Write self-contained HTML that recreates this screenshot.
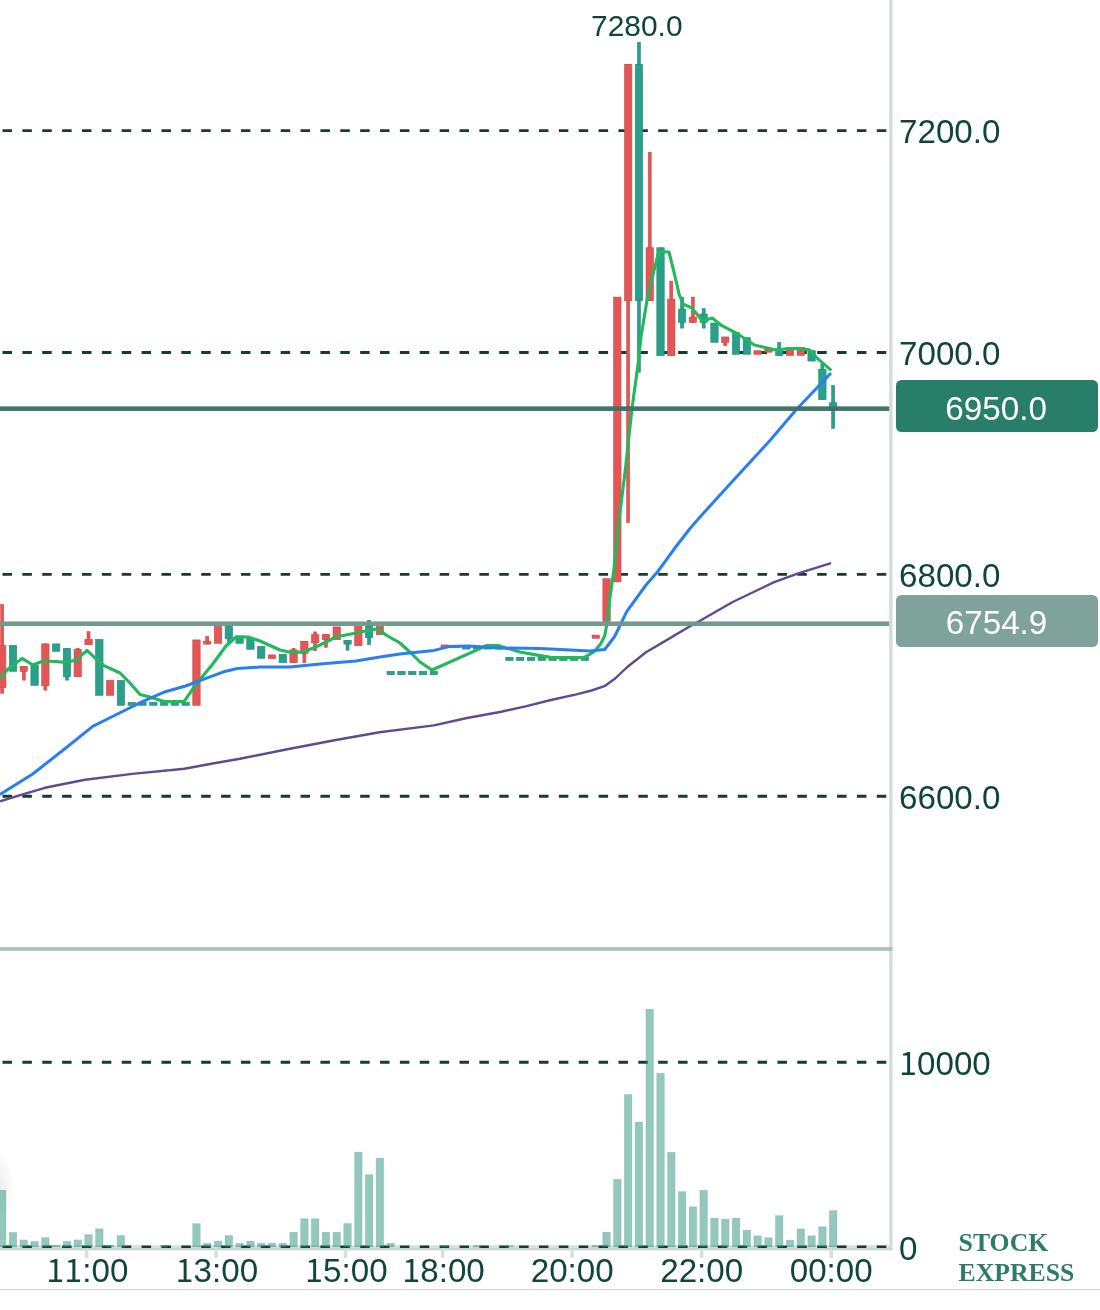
<!DOCTYPE html>
<html lang="en"><head><meta charset="utf-8"><title>Stock Express chart</title>
<style>
html,body{margin:0;padding:0;background:#fff;}
body{width:1100px;height:1310px;overflow:hidden;position:relative;}
svg{display:block;position:absolute;left:0;top:0;}
text{font-family:"Liberation Sans",Arial,Helvetica,sans-serif;font-size:32.8px;fill:#10463a;}
.brand{font-family:"Liberation Serif","Times New Roman",serif;font-weight:bold;font-size:25.6px;fill:#2e7c68;}
.one{font-family:"Noto Sans CJK JP","Liberation Sans",sans-serif;font-size:32px;}
.box{fill:#fff;font-size:33.6px;}
</style></head><body>
<svg width="1100" height="1310" viewBox="0 0 1100 1310">
<defs><radialGradient id="sh" gradientUnits="userSpaceOnUse" cx="-30" cy="1186" r="46"><stop offset="0.6" stop-color="#000" stop-opacity="0.07"/><stop offset="1" stop-color="#000" stop-opacity="0"/></radialGradient></defs>
<rect width="1100" height="1310" fill="#ffffff"/>
<rect x="0" y="1120" width="40" height="130" fill="url(#sh)"/>
<!-- grid -->
<g id="grid">
<line x1="2.5" y1="130.6" x2="886.4" y2="130.6" stroke="#143d31" stroke-width="2.9" stroke-dasharray="9.5 10.37"/>
<line x1="2.5" y1="352.5" x2="886.4" y2="352.5" stroke="#143d31" stroke-width="2.9" stroke-dasharray="9.5 10.37"/>
<line x1="2.5" y1="574.4" x2="886.4" y2="574.4" stroke="#143d31" stroke-width="2.9" stroke-dasharray="9.5 10.37"/>
<line x1="2.5" y1="796.3" x2="886.4" y2="796.3" stroke="#143d31" stroke-width="2.9" stroke-dasharray="9.5 10.37"/>
<line x1="2.5" y1="1062.2" x2="886.4" y2="1062.2" stroke="#143d31" stroke-width="2.9" stroke-dasharray="9.5 10.37"/>
</g>
<!-- axis lines -->
<rect x="889.2" y="0" width="3.3" height="1250.2" fill="#d3dcd9"/>
<rect x="0" y="947.2" width="892.4" height="3.6" fill="#a9bfb8"/>
<rect x="0" y="1245.2" width="892.4" height="5" fill="#d9e1de"/>
<rect x="0" y="1248.2" width="892.4" height="2" fill="#c6d3cf"/>
<line x1="2.5" y1="1246.8" x2="886.4" y2="1246.8" stroke="#143d31" stroke-width="2.4" stroke-dasharray="9.5 10.37"/>
<g id="ticks">
<rect x="84.74" y="1249.00" width="3.60" height="9.00" fill="#d6e0dd"/>
<rect x="214.24" y="1249.00" width="3.60" height="9.00" fill="#d6e0dd"/>
<rect x="343.74" y="1249.00" width="3.60" height="9.00" fill="#d6e0dd"/>
<rect x="440.87" y="1249.00" width="3.60" height="9.00" fill="#d6e0dd"/>
<rect x="570.38" y="1249.00" width="3.60" height="9.00" fill="#d6e0dd"/>
<rect x="699.88" y="1249.00" width="3.60" height="9.00" fill="#d6e0dd"/>
<rect x="829.38" y="1249.00" width="3.60" height="9.00" fill="#d6e0dd"/>
</g>
<rect x="0" y="1289" width="1100" height="1.2" fill="#d8d8d8"/>
<!-- volume -->
<g id="volume">
<rect x="-1.60" y="1190.20" width="7.60" height="56.80" fill="#2a917a" fill-opacity="0.5" stroke="#2a917a" stroke-opacity="0.22" stroke-width="0.7"/>
<rect x="9.19" y="1232.40" width="7.60" height="14.60" fill="#2a917a" fill-opacity="0.5" stroke="#2a917a" stroke-opacity="0.22" stroke-width="0.7"/>
<rect x="19.98" y="1239.90" width="7.60" height="7.10" fill="#2a917a" fill-opacity="0.5" stroke="#2a917a" stroke-opacity="0.22" stroke-width="0.7"/>
<rect x="30.78" y="1241.40" width="7.60" height="5.60" fill="#2a917a" fill-opacity="0.5" stroke="#2a917a" stroke-opacity="0.22" stroke-width="0.7"/>
<rect x="41.57" y="1237.60" width="7.60" height="9.40" fill="#2a917a" fill-opacity="0.5" stroke="#2a917a" stroke-opacity="0.22" stroke-width="0.7"/>
<rect x="52.36" y="1245.10" width="7.60" height="1.90" fill="#2a917a" fill-opacity="0.5" stroke="#2a917a" stroke-opacity="0.22" stroke-width="0.7"/>
<rect x="63.15" y="1241.30" width="7.60" height="5.70" fill="#2a917a" fill-opacity="0.5" stroke="#2a917a" stroke-opacity="0.22" stroke-width="0.7"/>
<rect x="73.94" y="1239.90" width="7.60" height="7.10" fill="#2a917a" fill-opacity="0.5" stroke="#2a917a" stroke-opacity="0.22" stroke-width="0.7"/>
<rect x="84.74" y="1234.50" width="7.60" height="12.50" fill="#2a917a" fill-opacity="0.5" stroke="#2a917a" stroke-opacity="0.22" stroke-width="0.7"/>
<rect x="95.53" y="1228.80" width="7.60" height="18.20" fill="#2a917a" fill-opacity="0.5" stroke="#2a917a" stroke-opacity="0.22" stroke-width="0.7"/>
<rect x="106.32" y="1245.10" width="7.60" height="1.90" fill="#2a917a" fill-opacity="0.5" stroke="#2a917a" stroke-opacity="0.22" stroke-width="0.7"/>
<rect x="117.11" y="1235.50" width="7.60" height="11.50" fill="#2a917a" fill-opacity="0.5" stroke="#2a917a" stroke-opacity="0.22" stroke-width="0.7"/>
<rect x="160.28" y="1245.50" width="7.60" height="1.50" fill="#2a917a" fill-opacity="0.5" stroke="#2a917a" stroke-opacity="0.22" stroke-width="0.7"/>
<rect x="192.66" y="1223.60" width="7.60" height="23.40" fill="#2a917a" fill-opacity="0.5" stroke="#2a917a" stroke-opacity="0.22" stroke-width="0.7"/>
<rect x="203.45" y="1243.30" width="7.60" height="3.70" fill="#2a917a" fill-opacity="0.5" stroke="#2a917a" stroke-opacity="0.22" stroke-width="0.7"/>
<rect x="214.24" y="1241.10" width="7.60" height="5.90" fill="#2a917a" fill-opacity="0.5" stroke="#2a917a" stroke-opacity="0.22" stroke-width="0.7"/>
<rect x="225.03" y="1235.50" width="7.60" height="11.50" fill="#2a917a" fill-opacity="0.5" stroke="#2a917a" stroke-opacity="0.22" stroke-width="0.7"/>
<rect x="235.82" y="1243.30" width="7.60" height="3.70" fill="#2a917a" fill-opacity="0.5" stroke="#2a917a" stroke-opacity="0.22" stroke-width="0.7"/>
<rect x="246.62" y="1241.10" width="7.60" height="5.90" fill="#2a917a" fill-opacity="0.5" stroke="#2a917a" stroke-opacity="0.22" stroke-width="0.7"/>
<rect x="257.41" y="1243.30" width="7.60" height="3.70" fill="#2a917a" fill-opacity="0.5" stroke="#2a917a" stroke-opacity="0.22" stroke-width="0.7"/>
<rect x="268.20" y="1243.30" width="7.60" height="3.70" fill="#2a917a" fill-opacity="0.5" stroke="#2a917a" stroke-opacity="0.22" stroke-width="0.7"/>
<rect x="278.99" y="1243.30" width="7.60" height="3.70" fill="#2a917a" fill-opacity="0.5" stroke="#2a917a" stroke-opacity="0.22" stroke-width="0.7"/>
<rect x="289.78" y="1232.20" width="7.60" height="14.80" fill="#2a917a" fill-opacity="0.5" stroke="#2a917a" stroke-opacity="0.22" stroke-width="0.7"/>
<rect x="300.58" y="1218.70" width="7.60" height="28.30" fill="#2a917a" fill-opacity="0.5" stroke="#2a917a" stroke-opacity="0.22" stroke-width="0.7"/>
<rect x="311.37" y="1218.70" width="7.60" height="28.30" fill="#2a917a" fill-opacity="0.5" stroke="#2a917a" stroke-opacity="0.22" stroke-width="0.7"/>
<rect x="322.16" y="1232.20" width="7.60" height="14.80" fill="#2a917a" fill-opacity="0.5" stroke="#2a917a" stroke-opacity="0.22" stroke-width="0.7"/>
<rect x="332.95" y="1232.20" width="7.60" height="14.80" fill="#2a917a" fill-opacity="0.5" stroke="#2a917a" stroke-opacity="0.22" stroke-width="0.7"/>
<rect x="343.74" y="1223.50" width="7.60" height="23.50" fill="#2a917a" fill-opacity="0.5" stroke="#2a917a" stroke-opacity="0.22" stroke-width="0.7"/>
<rect x="354.54" y="1152.10" width="7.60" height="94.90" fill="#2a917a" fill-opacity="0.5" stroke="#2a917a" stroke-opacity="0.22" stroke-width="0.7"/>
<rect x="365.33" y="1174.60" width="7.60" height="72.40" fill="#2a917a" fill-opacity="0.5" stroke="#2a917a" stroke-opacity="0.22" stroke-width="0.7"/>
<rect x="376.12" y="1158.20" width="7.60" height="88.80" fill="#2a917a" fill-opacity="0.5" stroke="#2a917a" stroke-opacity="0.22" stroke-width="0.7"/>
<rect x="386.91" y="1243.30" width="7.60" height="3.70" fill="#2a917a" fill-opacity="0.5" stroke="#2a917a" stroke-opacity="0.22" stroke-width="0.7"/>
<rect x="440.87" y="1245.60" width="7.60" height="1.40" fill="#2a917a" fill-opacity="0.5" stroke="#2a917a" stroke-opacity="0.22" stroke-width="0.7"/>
<rect x="473.25" y="1245.60" width="7.60" height="1.40" fill="#2a917a" fill-opacity="0.5" stroke="#2a917a" stroke-opacity="0.22" stroke-width="0.7"/>
<rect x="505.62" y="1245.60" width="7.60" height="1.40" fill="#2a917a" fill-opacity="0.5" stroke="#2a917a" stroke-opacity="0.22" stroke-width="0.7"/>
<rect x="591.96" y="1245.30" width="7.60" height="1.70" fill="#2a917a" fill-opacity="0.5" stroke="#2a917a" stroke-opacity="0.22" stroke-width="0.7"/>
<rect x="602.75" y="1232.10" width="7.60" height="14.90" fill="#2a917a" fill-opacity="0.5" stroke="#2a917a" stroke-opacity="0.22" stroke-width="0.7"/>
<rect x="613.54" y="1179.30" width="7.60" height="67.70" fill="#2a917a" fill-opacity="0.5" stroke="#2a917a" stroke-opacity="0.22" stroke-width="0.7"/>
<rect x="624.34" y="1094.60" width="7.60" height="152.40" fill="#2a917a" fill-opacity="0.5" stroke="#2a917a" stroke-opacity="0.22" stroke-width="0.7"/>
<rect x="635.13" y="1122.10" width="7.60" height="124.90" fill="#2a917a" fill-opacity="0.5" stroke="#2a917a" stroke-opacity="0.22" stroke-width="0.7"/>
<rect x="645.92" y="1009.20" width="7.60" height="237.80" fill="#2a917a" fill-opacity="0.5" stroke="#2a917a" stroke-opacity="0.22" stroke-width="0.7"/>
<rect x="656.71" y="1073.30" width="7.60" height="173.70" fill="#2a917a" fill-opacity="0.5" stroke="#2a917a" stroke-opacity="0.22" stroke-width="0.7"/>
<rect x="667.50" y="1152.30" width="7.60" height="94.70" fill="#2a917a" fill-opacity="0.5" stroke="#2a917a" stroke-opacity="0.22" stroke-width="0.7"/>
<rect x="678.30" y="1191.60" width="7.60" height="55.40" fill="#2a917a" fill-opacity="0.5" stroke="#2a917a" stroke-opacity="0.22" stroke-width="0.7"/>
<rect x="689.09" y="1206.80" width="7.60" height="40.20" fill="#2a917a" fill-opacity="0.5" stroke="#2a917a" stroke-opacity="0.22" stroke-width="0.7"/>
<rect x="699.88" y="1190.30" width="7.60" height="56.70" fill="#2a917a" fill-opacity="0.5" stroke="#2a917a" stroke-opacity="0.22" stroke-width="0.7"/>
<rect x="710.67" y="1218.10" width="7.60" height="28.90" fill="#2a917a" fill-opacity="0.5" stroke="#2a917a" stroke-opacity="0.22" stroke-width="0.7"/>
<rect x="721.46" y="1219.10" width="7.60" height="27.90" fill="#2a917a" fill-opacity="0.5" stroke="#2a917a" stroke-opacity="0.22" stroke-width="0.7"/>
<rect x="732.26" y="1218.10" width="7.60" height="28.90" fill="#2a917a" fill-opacity="0.5" stroke="#2a917a" stroke-opacity="0.22" stroke-width="0.7"/>
<rect x="743.05" y="1230.10" width="7.60" height="16.90" fill="#2a917a" fill-opacity="0.5" stroke="#2a917a" stroke-opacity="0.22" stroke-width="0.7"/>
<rect x="753.84" y="1235.80" width="7.60" height="11.20" fill="#2a917a" fill-opacity="0.5" stroke="#2a917a" stroke-opacity="0.22" stroke-width="0.7"/>
<rect x="764.63" y="1237.70" width="7.60" height="9.30" fill="#2a917a" fill-opacity="0.5" stroke="#2a917a" stroke-opacity="0.22" stroke-width="0.7"/>
<rect x="775.42" y="1215.60" width="7.60" height="31.40" fill="#2a917a" fill-opacity="0.5" stroke="#2a917a" stroke-opacity="0.22" stroke-width="0.7"/>
<rect x="786.22" y="1240.20" width="7.60" height="6.80" fill="#2a917a" fill-opacity="0.5" stroke="#2a917a" stroke-opacity="0.22" stroke-width="0.7"/>
<rect x="797.01" y="1228.90" width="7.60" height="18.10" fill="#2a917a" fill-opacity="0.5" stroke="#2a917a" stroke-opacity="0.22" stroke-width="0.7"/>
<rect x="807.80" y="1235.80" width="7.60" height="11.20" fill="#2a917a" fill-opacity="0.5" stroke="#2a917a" stroke-opacity="0.22" stroke-width="0.7"/>
<rect x="818.59" y="1226.70" width="7.60" height="20.30" fill="#2a917a" fill-opacity="0.5" stroke="#2a917a" stroke-opacity="0.22" stroke-width="0.7"/>
<rect x="829.38" y="1210.50" width="7.60" height="36.50" fill="#2a917a" fill-opacity="0.5" stroke="#2a917a" stroke-opacity="0.22" stroke-width="0.7"/>
</g>
<!-- candles -->
<g id="candles">
<rect x="0.70" y="604.30" width="3.00" height="89.00" fill="#e25656" stroke="#cf4a4a" stroke-width="0.6"/>
<rect x="-1.50" y="645.30" width="7.40" height="42.40" fill="#e25656" stroke="#cf4a4a" stroke-width="0.6"/>
<rect x="9.29" y="645.30" width="7.40" height="26.00" fill="#2aa08a" stroke="#208c77" stroke-width="0.6"/>
<rect x="22.28" y="666.30" width="3.00" height="13.80" fill="#e25656" stroke="#cf4a4a" stroke-width="0.6"/>
<rect x="20.08" y="666.30" width="7.40" height="5.00" fill="#e25656" stroke="#cf4a4a" stroke-width="0.6"/>
<rect x="30.88" y="665.30" width="7.40" height="20.00" fill="#2aa08a" stroke="#208c77" stroke-width="0.6"/>
<rect x="43.87" y="643.90" width="3.00" height="46.20" fill="#e25656" stroke="#cf4a4a" stroke-width="0.6"/>
<rect x="41.67" y="643.90" width="7.40" height="41.80" fill="#e25656" stroke="#cf4a4a" stroke-width="0.6"/>
<rect x="52.46" y="643.90" width="7.40" height="7.40" fill="#2aa08a" stroke="#208c77" stroke-width="0.6"/>
<rect x="65.45" y="648.30" width="3.00" height="31.80" fill="#2aa08a" stroke="#208c77" stroke-width="0.6"/>
<rect x="63.25" y="648.30" width="7.40" height="28.40" fill="#2aa08a" stroke="#208c77" stroke-width="0.6"/>
<rect x="76.24" y="648.30" width="3.00" height="28.40" fill="#e25656" stroke="#cf4a4a" stroke-width="0.6"/>
<rect x="74.04" y="649.30" width="7.40" height="27.40" fill="#e25656" stroke="#cf4a4a" stroke-width="0.6"/>
<rect x="87.04" y="631.70" width="3.00" height="13.00" fill="#e25656" stroke="#cf4a4a" stroke-width="0.6"/>
<rect x="84.84" y="639.30" width="7.40" height="5.40" fill="#e25656" stroke="#cf4a4a" stroke-width="0.6"/>
<rect x="95.63" y="639.30" width="7.40" height="56.00" fill="#2aa08a" stroke="#208c77" stroke-width="0.6"/>
<rect x="106.42" y="680.30" width="7.40" height="15.00" fill="#e25656" stroke="#cf4a4a" stroke-width="0.6"/>
<rect x="117.21" y="680.30" width="7.40" height="25.00" fill="#2aa08a" stroke="#208c77" stroke-width="0.6"/>
<rect x="128.00" y="702.30" width="7.40" height="3.00" fill="#2aa08a" stroke="#208c77" stroke-width="0.6"/>
<rect x="138.80" y="702.30" width="7.40" height="3.00" fill="#2aa08a" stroke="#208c77" stroke-width="0.6"/>
<rect x="149.59" y="702.30" width="7.40" height="3.00" fill="#2aa08a" stroke="#208c77" stroke-width="0.6"/>
<rect x="160.38" y="702.30" width="7.40" height="3.00" fill="#2aa08a" stroke="#208c77" stroke-width="0.6"/>
<rect x="171.17" y="702.30" width="7.40" height="3.00" fill="#2aa08a" stroke="#208c77" stroke-width="0.6"/>
<rect x="181.96" y="702.30" width="7.40" height="3.00" fill="#2aa08a" stroke="#208c77" stroke-width="0.6"/>
<rect x="192.76" y="639.90" width="7.40" height="65.40" fill="#e25656" stroke="#cf4a4a" stroke-width="0.6"/>
<rect x="205.75" y="636.30" width="3.00" height="7.80" fill="#e25656" stroke="#cf4a4a" stroke-width="0.6"/>
<rect x="203.55" y="641.30" width="7.40" height="2.80" fill="#e25656" stroke="#cf4a4a" stroke-width="0.6"/>
<rect x="214.34" y="626.30" width="7.40" height="17.00" fill="#e25656" stroke="#cf4a4a" stroke-width="0.6"/>
<rect x="227.33" y="626.30" width="3.00" height="15.80" fill="#2aa08a" stroke="#208c77" stroke-width="0.6"/>
<rect x="225.13" y="626.30" width="7.40" height="12.40" fill="#2aa08a" stroke="#208c77" stroke-width="0.6"/>
<rect x="235.92" y="635.90" width="7.40" height="7.40" fill="#2aa08a" stroke="#208c77" stroke-width="0.6"/>
<rect x="246.72" y="638.30" width="7.40" height="11.00" fill="#2aa08a" stroke="#208c77" stroke-width="0.6"/>
<rect x="257.51" y="646.30" width="7.40" height="12.00" fill="#2aa08a" stroke="#208c77" stroke-width="0.6"/>
<rect x="268.30" y="654.90" width="7.40" height="3.80" fill="#e25656" stroke="#cf4a4a" stroke-width="0.6"/>
<rect x="279.09" y="654.30" width="7.40" height="8.40" fill="#2aa08a" stroke="#208c77" stroke-width="0.6"/>
<rect x="292.08" y="648.30" width="3.00" height="14.40" fill="#e25656" stroke="#cf4a4a" stroke-width="0.6"/>
<rect x="289.88" y="649.90" width="7.40" height="12.80" fill="#e25656" stroke="#cf4a4a" stroke-width="0.6"/>
<rect x="302.88" y="641.30" width="3.00" height="21.40" fill="#e25656" stroke="#cf4a4a" stroke-width="0.6"/>
<rect x="300.68" y="641.30" width="7.40" height="12.00" fill="#e25656" stroke="#cf4a4a" stroke-width="0.6"/>
<rect x="313.67" y="631.90" width="3.00" height="18.80" fill="#e25656" stroke="#cf4a4a" stroke-width="0.6"/>
<rect x="311.47" y="634.70" width="7.40" height="8.00" fill="#e25656" stroke="#cf4a4a" stroke-width="0.6"/>
<rect x="324.46" y="634.30" width="3.00" height="13.00" fill="#e25656" stroke="#cf4a4a" stroke-width="0.6"/>
<rect x="322.26" y="634.30" width="7.40" height="5.40" fill="#e25656" stroke="#cf4a4a" stroke-width="0.6"/>
<rect x="333.05" y="626.90" width="7.40" height="12.80" fill="#e25656" stroke="#cf4a4a" stroke-width="0.6"/>
<rect x="346.04" y="640.30" width="3.00" height="9.80" fill="#2aa08a" stroke="#208c77" stroke-width="0.6"/>
<rect x="343.84" y="640.30" width="7.40" height="3.80" fill="#2aa08a" stroke="#208c77" stroke-width="0.6"/>
<rect x="354.64" y="626.30" width="7.40" height="19.40" fill="#e25656" stroke="#cf4a4a" stroke-width="0.6"/>
<rect x="367.63" y="620.30" width="3.00" height="24.40" fill="#2aa08a" stroke="#208c77" stroke-width="0.6"/>
<rect x="365.43" y="626.30" width="7.40" height="11.40" fill="#2aa08a" stroke="#208c77" stroke-width="0.6"/>
<rect x="376.22" y="626.30" width="7.40" height="8.40" fill="#e25656" stroke="#cf4a4a" stroke-width="0.6"/>
<rect x="387.01" y="671.30" width="7.40" height="3.40" fill="#2aa08a" stroke="#208c77" stroke-width="0.6"/>
<rect x="397.80" y="671.30" width="7.40" height="3.40" fill="#2aa08a" stroke="#208c77" stroke-width="0.6"/>
<rect x="408.60" y="671.30" width="7.40" height="3.40" fill="#2aa08a" stroke="#208c77" stroke-width="0.6"/>
<rect x="419.39" y="671.30" width="7.40" height="3.40" fill="#2aa08a" stroke="#208c77" stroke-width="0.6"/>
<rect x="430.18" y="671.30" width="7.40" height="3.40" fill="#2aa08a" stroke="#208c77" stroke-width="0.6"/>
<rect x="440.97" y="644.90" width="7.40" height="2.60" fill="#e25656" stroke="#cf4a4a" stroke-width="0.6"/>
<rect x="451.76" y="645.30" width="7.40" height="2.40" fill="#e25656" stroke="#cf4a4a" stroke-width="0.6"/>
<rect x="462.56" y="646.30" width="7.40" height="2.80" fill="#2aa08a" stroke="#208c77" stroke-width="0.6"/>
<rect x="473.35" y="646.30" width="7.40" height="2.80" fill="#2aa08a" stroke="#208c77" stroke-width="0.6"/>
<rect x="484.14" y="646.30" width="7.40" height="2.80" fill="#2aa08a" stroke="#208c77" stroke-width="0.6"/>
<rect x="494.93" y="646.30" width="7.40" height="2.80" fill="#2aa08a" stroke="#208c77" stroke-width="0.6"/>
<rect x="505.72" y="657.30" width="7.40" height="3.20" fill="#2aa08a" stroke="#208c77" stroke-width="0.6"/>
<rect x="516.52" y="657.30" width="7.40" height="3.20" fill="#2aa08a" stroke="#208c77" stroke-width="0.6"/>
<rect x="527.31" y="657.30" width="7.40" height="3.20" fill="#2aa08a" stroke="#208c77" stroke-width="0.6"/>
<rect x="538.10" y="657.30" width="7.40" height="3.20" fill="#2aa08a" stroke="#208c77" stroke-width="0.6"/>
<rect x="548.89" y="657.30" width="7.40" height="3.20" fill="#2aa08a" stroke="#208c77" stroke-width="0.6"/>
<rect x="559.68" y="657.30" width="7.40" height="3.20" fill="#2aa08a" stroke="#208c77" stroke-width="0.6"/>
<rect x="570.48" y="657.30" width="7.40" height="3.20" fill="#2aa08a" stroke="#208c77" stroke-width="0.6"/>
<rect x="581.27" y="657.30" width="7.40" height="3.20" fill="#2aa08a" stroke="#208c77" stroke-width="0.6"/>
<rect x="592.06" y="635.10" width="7.40" height="3.20" fill="#e25656" stroke="#cf4a4a" stroke-width="0.6"/>
<rect x="602.85" y="578.70" width="7.40" height="42.50" fill="#e25656" stroke="#cf4a4a" stroke-width="0.6"/>
<rect x="613.64" y="297.10" width="7.40" height="284.80" fill="#e25656" stroke="#cf4a4a" stroke-width="0.6"/>
<rect x="626.64" y="64.30" width="3.00" height="458.20" fill="#e25656" stroke="#cf4a4a" stroke-width="0.6"/>
<rect x="624.44" y="64.30" width="7.40" height="236.40" fill="#e25656" stroke="#cf4a4a" stroke-width="0.6"/>
<rect x="637.43" y="42.30" width="3.00" height="329.90" fill="#2aa08a" stroke="#208c77" stroke-width="0.6"/>
<rect x="635.23" y="64.30" width="7.40" height="236.40" fill="#2aa08a" stroke="#208c77" stroke-width="0.6"/>
<rect x="648.22" y="152.30" width="3.00" height="148.40" fill="#e25656" stroke="#cf4a4a" stroke-width="0.6"/>
<rect x="646.02" y="247.70" width="7.40" height="53.00" fill="#e25656" stroke="#cf4a4a" stroke-width="0.6"/>
<rect x="656.81" y="247.70" width="7.40" height="108.00" fill="#2aa08a" stroke="#208c77" stroke-width="0.6"/>
<rect x="669.80" y="281.10" width="3.00" height="74.60" fill="#e25656" stroke="#cf4a4a" stroke-width="0.6"/>
<rect x="667.60" y="299.20" width="7.40" height="56.50" fill="#e25656" stroke="#cf4a4a" stroke-width="0.6"/>
<rect x="680.60" y="297.10" width="3.00" height="31.00" fill="#2aa08a" stroke="#208c77" stroke-width="0.6"/>
<rect x="678.40" y="309.10" width="7.40" height="13.30" fill="#2aa08a" stroke="#208c77" stroke-width="0.6"/>
<rect x="691.39" y="297.10" width="3.00" height="25.30" fill="#e25656" stroke="#cf4a4a" stroke-width="0.6"/>
<rect x="689.19" y="317.10" width="7.40" height="5.30" fill="#e25656" stroke="#cf4a4a" stroke-width="0.6"/>
<rect x="702.18" y="308.50" width="3.00" height="19.60" fill="#2aa08a" stroke="#208c77" stroke-width="0.6"/>
<rect x="699.98" y="314.00" width="7.40" height="8.40" fill="#2aa08a" stroke="#208c77" stroke-width="0.6"/>
<rect x="710.77" y="323.00" width="7.40" height="19.30" fill="#2aa08a" stroke="#208c77" stroke-width="0.6"/>
<rect x="723.76" y="337.00" width="3.00" height="8.70" fill="#e25656" stroke="#cf4a4a" stroke-width="0.6"/>
<rect x="721.56" y="337.00" width="7.40" height="5.30" fill="#e25656" stroke="#cf4a4a" stroke-width="0.6"/>
<rect x="732.36" y="332.70" width="7.40" height="21.60" fill="#2aa08a" stroke="#208c77" stroke-width="0.6"/>
<rect x="743.15" y="337.70" width="7.40" height="16.60" fill="#2aa08a" stroke="#208c77" stroke-width="0.6"/>
<rect x="753.94" y="350.70" width="7.40" height="3.60" fill="#e25656" stroke="#cf4a4a" stroke-width="0.6"/>
<rect x="764.73" y="349.10" width="7.40" height="3.10" fill="#e25656" stroke="#cf4a4a" stroke-width="0.6"/>
<rect x="777.72" y="342.50" width="3.00" height="12.90" fill="#2aa08a" stroke="#208c77" stroke-width="0.6"/>
<rect x="775.52" y="349.30" width="7.40" height="6.10" fill="#2aa08a" stroke="#208c77" stroke-width="0.6"/>
<rect x="786.32" y="347.30" width="7.40" height="8.10" fill="#e25656" stroke="#cf4a4a" stroke-width="0.6"/>
<rect x="797.11" y="347.30" width="7.40" height="8.10" fill="#e25656" stroke="#cf4a4a" stroke-width="0.6"/>
<rect x="807.90" y="350.70" width="7.40" height="10.40" fill="#2aa08a" stroke="#208c77" stroke-width="0.6"/>
<rect x="820.89" y="363.80" width="3.00" height="35.90" fill="#2aa08a" stroke="#208c77" stroke-width="0.6"/>
<rect x="818.69" y="369.30" width="7.40" height="30.40" fill="#2aa08a" stroke="#208c77" stroke-width="0.6"/>
<rect x="831.68" y="385.50" width="3.00" height="42.90" fill="#2aa08a" stroke="#208c77" stroke-width="0.6"/>
<rect x="829.48" y="402.70" width="7.40" height="8.00" fill="#2aa08a" stroke="#208c77" stroke-width="0.6"/>
</g>
<!-- moving averages -->
<polyline points="0.0,678.0 8.0,669.0 22.0,658.4 33.0,665.0 43.0,661.0 55.0,661.5 66.0,662.4 76.0,660.0 87.0,650.4 95.0,658.0 104.0,665.6 120.0,673.0 130.0,683.0 140.0,694.6 148.0,696.6 164.0,701.6 184.0,701.6 197.0,683.0 212.0,665.0 226.0,646.0 236.0,637.0 248.0,637.0 260.0,641.0 280.0,650.0 294.0,653.0 306.0,651.0 320.0,645.0 336.0,637.0 356.0,633.0 370.0,630.0 378.0,629.0 386.0,635.0 400.0,643.0 412.0,654.0 420.0,662.0 432.0,670.0 480.0,648.6 486.0,645.6 498.0,645.6 520.0,652.0 540.0,655.6 552.0,657.6 584.0,657.6 593.7,652.0 600.6,644.0 604.7,635.8 606.8,624.8 609.5,601.4 613.7,571.2 617.8,530.0 625.3,470.0 632.2,406.7 638.0,364.8 641.0,337.0 647.7,296.0 658.7,251.5 669.0,252.0 673.8,271.4 679.3,294.8 683.4,304.4 691.6,307.8 702.6,320.9 712.2,318.0 721.9,325.7 737.9,334.0 754.3,345.0 775.0,349.8 784.6,349.0 797.0,348.4 809.3,349.8 816.2,357.3 831.3,370.4" fill="none" stroke="#22b85c" stroke-width="3.1" stroke-linejoin="round" stroke-linecap="butt"/>
<polyline points="0.0,794.5 32.7,774.0 65.5,748.2 92.7,726.4 114.5,715.5 141.8,701.8 163.6,692.3 185.5,686.0 207.3,677.8 223.6,671.8 237.3,668.5 260.0,667.0 290.0,667.0 320.0,664.0 356.0,661.0 380.0,657.0 400.0,654.0 434.0,650.4 450.0,646.4 468.0,646.0 500.0,648.0 540.0,648.6 570.0,650.0 590.0,651.0 604.7,649.5 614.3,637.0 619.8,626.0 626.7,611.7 646.0,585.0 657.0,572.6 676.0,546.5 690.0,528.5 700.0,517.0 730.0,484.0 770.4,440.0 795.5,410.5 831.0,373.0" fill="none" stroke="#2a7ff0" stroke-width="3.0" stroke-linejoin="round" stroke-linecap="butt"/>
<polyline points="0.0,801.3 23.6,794.2 44.9,787.8 85.1,779.8 132.4,773.9 184.4,768.7 212.8,763.5 240.0,758.8 287.3,749.3 334.6,740.3 379.5,732.3 433.9,725.4 467.0,718.0 500.0,712.0 525.5,706.3 550.9,700.0 576.4,694.3 591.6,690.5 604.4,686.2 614.5,679.1 627.3,667.0 646.0,652.3 662.4,642.6 690.0,626.2 700.0,620.8 732.7,602.0 773.6,582.4 798.2,573.4 831.0,563.2" fill="none" stroke="#5e4b90" stroke-width="2.4" stroke-linejoin="round" stroke-linecap="butt"/>
<!-- price lines -->
<rect x="0" y="621.45" width="889.2" height="4.6" fill="#70978b" fill-opacity="0.97"/>
<rect x="0" y="406.35" width="889.2" height="4.6" fill="#3f7063" fill-opacity="0.97"/>
<!-- labels -->
<g id="ylabels">
<text transform="translate(899.0 143.2) scale(1.012 1)">7200.0</text>
<text transform="translate(899.0 365.1) scale(1.012 1)">7000.0</text>
<text transform="translate(899.0 587.0) scale(1.012 1)">6800.0</text>
<text transform="translate(899.0 808.9) scale(1.012 1)">6600.0</text>
<text transform="translate(899.0 1074.8) scale(1.012 1)"><tspan class="one">1</tspan>0000</text>
<text transform="translate(899.0 1259.6) scale(1.012 1)">0</text>
</g>
<g id="xlabels">
<text transform="translate(87.3 1281.6) scale(1.012 1)" text-anchor="middle"><tspan class="one">11</tspan>:00</text>
<text transform="translate(216.8 1281.6) scale(1.012 1)" text-anchor="middle"><tspan class="one">1</tspan>3:00</text>
<text transform="translate(346.3 1281.6) scale(1.012 1)" text-anchor="middle"><tspan class="one">1</tspan>5:00</text>
<text transform="translate(443.5 1281.6) scale(1.012 1)" text-anchor="middle"><tspan class="one">1</tspan>8:00</text>
<text transform="translate(572.2 1281.6) scale(1.012 1)" text-anchor="middle">20:00</text>
<text transform="translate(701.7 1281.6) scale(1.012 1)" text-anchor="middle">22:00</text>
<text transform="translate(831.2 1281.6) scale(1.012 1)" text-anchor="middle">00:00</text>
</g>
<text transform="translate(636.8 35.8) scale(1.012 1)" text-anchor="middle" style="font-size:29.6px">7280.0</text>
<rect x="896" y="380" width="202" height="52" rx="5.5" fill="#297e69"/>
<text transform="translate(996.2 419.6) scale(0.99 1)" text-anchor="middle" class="box">6950.0</text>
<rect x="896" y="595" width="202" height="52" rx="5.5" fill="#7fa39a"/>
<text transform="translate(996.5 634.2) scale(0.99 1)" text-anchor="middle" class="box">6754.9</text>
<text transform="translate(958.6 1251.1) scale(1.006 1)" class="brand">STOCK</text>
<text transform="translate(958.6 1281.2) scale(1.004 1)" class="brand">EXPRESS</text>
</svg>
</body></html>
